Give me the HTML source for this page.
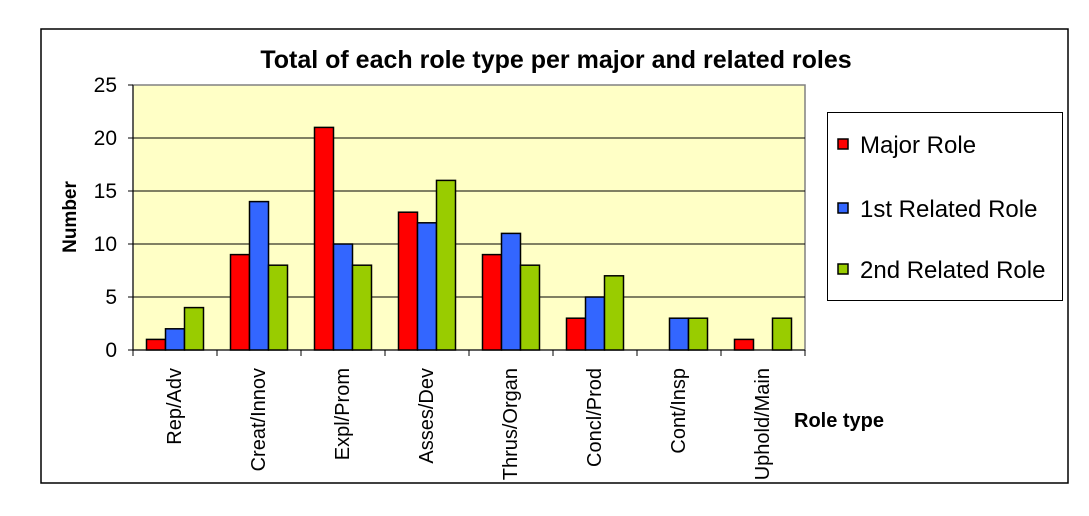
<!DOCTYPE html>
<html><head><meta charset="utf-8"><style>
body{margin:0;background:#fff;}
svg text{font-family:"Liberation Sans",Arial,sans-serif;}
</style></head><body>
<svg id="c" width="1089" height="511">
<rect x="41" y="29" width="1027" height="454" fill="#fff" stroke="#000" stroke-width="1.5"/>
<text x="556" y="68" font-size="25" font-weight="bold" text-anchor="middle">Total of each role type per major and related roles</text>
<rect x="133" y="85" width="672" height="265" fill="#ffffc6" stroke="#808080" stroke-width="1.5"/>
<g id="grid"></g><g id="bars"></g><g id="axes"></g>
<text transform="translate(76,217) rotate(-90)" font-size="19" font-weight="bold" text-anchor="middle">Number</text>
<text x="794" y="427" font-size="20" font-weight="bold">Role type</text>
<g>
<rect x="827.5" y="112.5" width="235" height="188" fill="#fff" stroke="#000"/>
<rect x="838" y="139" width="10" height="10" fill="#ff0000" stroke="#000" stroke-width="1.5"/>
<text x="860" y="153" font-size="24">Major Role</text>
<rect x="838" y="203" width="10" height="10" fill="#3366ff" stroke="#000" stroke-width="1.5"/>
<text x="860" y="217" font-size="24">1st Related Role</text>
<rect x="838" y="264" width="10" height="10" fill="#99cc00" stroke="#000" stroke-width="1.5"/>
<text x="860" y="278" font-size="24">2nd Related Role</text>
</g>
</svg>
<script>
const categories=["Rep/Adv","Creat/Innov","Expl/Prom","Asses/Dev","Thrus/Organ","Concl/Prod","Cont/Insp","Uphold/Main"];
const majorRole=[1,9,21,13,9,3,0,1];
const firstRelated=[2,14,10,12,11,5,3,0];
const secondRelated=[4,8,8,16,8,7,3,3];
const yTicks=[0,5,10,15,20,25];
const series=[majorRole,firstRelated,secondRelated];
const colors=["#ff0000","#3366ff","#99cc00"];
const names=["major","first-related","second-related"];
const NS="http://www.w3.org/2000/svg";
const X0=133,X1=805,Y0=350,Y1=85,YMAX=25;
const bw=(X1-X0)/categories.length;
const y=v=>Y0-(v/YMAX)*(Y0-Y1);
const x=i=>X0+i*bw;
function mk(t,a,p){const e=document.createElementNS(NS,t);for(const k in a)e.setAttribute(k,a[k]);document.getElementById(p).appendChild(e);return e;}
yTicks.forEach(t=>{
  if(t>0&&t<YMAX){const g=mk("line",{x1:X0,x2:X1,y1:y(t),y2:y(t),stroke:"#000","stroke-width":1},"grid");
  
  }
  mk("line",{x1:X0-5,x2:X0,y1:y(t),y2:y(t),stroke:"#000"},"axes");
  const l=mk("text",{x:X0-16,y:y(t)+7,"font-size":21,"text-anchor":"end"},"axes");l.textContent=t;
  
  
});
mk("line",{x1:X0,x2:X0,y1:Y1,y2:Y0,stroke:"#000"},"axes");
mk("line",{x1:X0,x2:X1,y1:Y0,y2:Y0,stroke:"#000"},"axes");
const barW=19,off=(bw-3*barW)/2;
categories.forEach((c,i)=>{
  mk("line",{x1:x(i),x2:x(i),y1:Y0,y2:Y0+6,stroke:"#000"},"axes");
  series.forEach((s,j)=>{
    const v=s[i];if(v<=0)return;
    const r=mk("rect",{x:x(i)+off+j*barW,y:y(v),width:barW,height:Y0-y(v),fill:colors[j],stroke:"#000","stroke-width":1.5},"bars");
    
    
  });
  const cx=x(i)+bw/2+6;
  const l=mk("text",{transform:`translate(${cx},368) rotate(-90)`,"font-size":20,"text-anchor":"end"},"axes");
  l.textContent=c;
  
  
});
mk("line",{x1:X1,x2:X1,y1:Y0,y2:Y0+6,stroke:"#000"},"axes");
</script>
</body></html>
